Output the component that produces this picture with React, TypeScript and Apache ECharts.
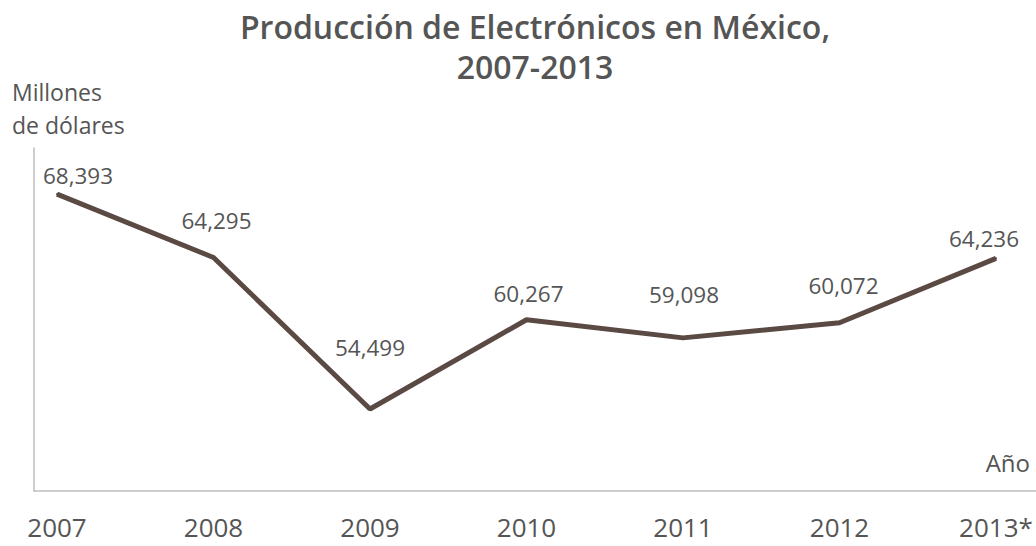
import React, { useEffect, useRef } from "react";
import * as echarts from "echarts";

const years = ["2007", "2008", "2009", "2010", "2011", "2012", "2013*"];
const production = [68393, 64295, 54499, 60267, 59098, 60072, 64236];
// label offsets [dx, dy] relative to the default "top" label position (style only)
const labelOffsets: [number, number][] = [
  [21, 2],
  [3, -16],
  [0, -41],
  [2, -6],
  [1, -23],
  [4, -17],
  [-12, 1],
];

const FONT = "'Open Sans', 'Noto Sans', sans-serif";
const TXT = "#555555";

export default function App() {
  const ref = useRef<HTMLDivElement>(null);
  useEffect(() => {
    document.body.style.margin = "0";
    if (!ref.current) return;
    const chart = echarts.init(ref.current, undefined, { renderer: "svg" });
    const gridTop = 148;
    const gridBottom = 55;
    const yMin = 49200;
    const yMax = 71370;
    chart.setOption({
      animation: false,
      backgroundColor: "#ffffff",
      textStyle: { fontFamily: FONT },
      title: {
        text: "Producción de Electrónicos en México,\n2007-2013",
        left: 530,
        top: 1,
        textAlign: "center",
        textStyle: {
          fontFamily: FONT,
          fontSize: 32,
          fontWeight: 600,
          color: TXT,
          lineHeight: 40,
        },
      },
      graphic: [
        {
          type: "text",
          left: 12,
          top: 75,
          style: {
            text: "Millones\nde dólares",
            fontFamily: FONT,
            fontSize: 23,
            lineHeight: 33,
            fill: TXT,
          },
        },
        {
          type: "text",
          right: 6,
          top: 450,
          style: {
            text: "Año",
            fontFamily: FONT,
            fontSize: 24,
            fill: TXT,
          },
        },
      ],
      grid: [
        { left: 34, right: 0, top: gridTop, bottom: gridBottom },
        { left: 57, right: 40, top: gridTop, bottom: gridBottom },
      ],
      xAxis: [
        {
          gridIndex: 0,
          type: "value",
          min: 0,
          max: 1,
          axisLine: { show: true, lineStyle: { color: "#bdbdbd", width: 1.5 } },
          axisTick: { show: false },
          axisLabel: { show: false },
          splitLine: { show: false },
        },
        {
          gridIndex: 1,
          type: "category",
          data: years,
          boundaryGap: false,
          axisLine: { show: false },
          axisTick: { show: false },
          splitLine: { show: false },
          axisLabel: {
            show: true,
            interval: 0,
            margin: 23,
            fontFamily: FONT,
            fontSize: 26,
            color: TXT,
          },
        },
      ],
      yAxis: [
        {
          gridIndex: 0,
          type: "value",
          min: 0,
          max: 1,
          axisLine: { show: true, lineStyle: { color: "#bdbdbd", width: 1.5 } },
          axisTick: { show: false },
          axisLabel: { show: false },
          splitLine: { show: false },
        },
        {
          gridIndex: 1,
          type: "value",
          min: yMin,
          max: yMax,
          axisLine: { show: false },
          axisTick: { show: false },
          axisLabel: { show: false },
          splitLine: { show: false },
        },
      ],
      series: [
        {
          type: "line",
          xAxisIndex: 1,
          yAxisIndex: 1,
          data: production.map((v, i) => ({
            value: v,
            label: {
              show: true,
              position: "top",
              distance: 8,
              offset: labelOffsets[i],
            },
          })),
          symbol: "circle",
          symbolSize: 2,
          showSymbol: true,
          itemStyle: { color: "#5b4943" },
          lineStyle: { color: "#5b4943", width: 5 },
          label: {
            show: true,
            position: "top",
            distance: 8,
            fontFamily: FONT,
            fontSize: 22.5,
            color: TXT,
            formatter: (p: any) => Number(p.value).toLocaleString("en-US"),
          },
        },
      ],
    });
    return () => chart.dispose();
  }, []);
  return <div ref={ref} style={{ width: 1036, height: 546 }} />;
}
